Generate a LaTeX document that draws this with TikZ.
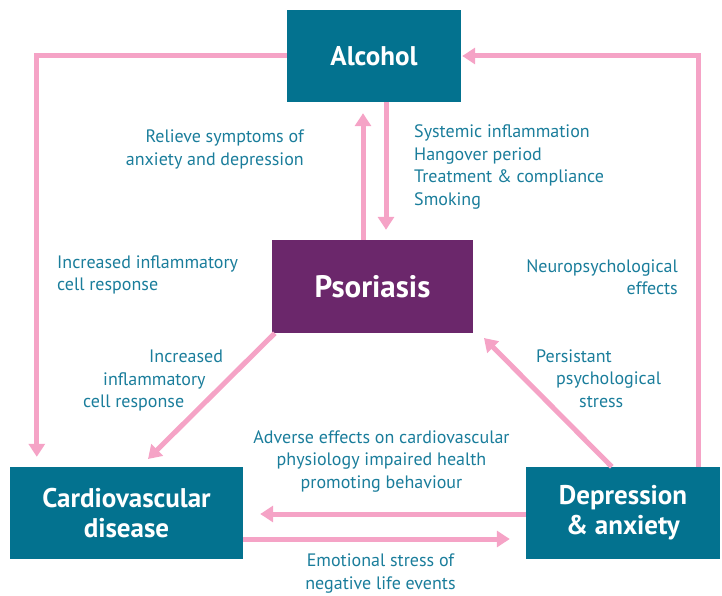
\documentclass[tikz,border=0pt]{standalone}
\usepackage{fontspec}
\setmainfont{PT Sans}
\usetikzlibrary{arrows.meta}
\definecolor{boxteal}{HTML}{03728F}
\definecolor{labteal}{HTML}{1A7D9B}
\definecolor{psorpurple}{HTML}{6B276B}
\definecolor{linkpink}{HTML}{F5A3C6}
\begin{document}
\begin{tikzpicture}[x=1pt,y=-1pt,
  box/.style={draw=none,fill=boxteal,text=white,font=\fontsize{27}{30}\selectfont\bfseries,
    align=center,inner sep=0pt},
  lab/.style={text=labteal,font=\fontsize{18}{22.5}\selectfont,inner sep=0pt},
  link/.style={draw=linkpink,line width=5pt},
  arr/.style={link,-{Triangle[width=16pt,length=13pt]}}]
\useasboundingbox (0,0) rectangle (722,596);

% boxes
\node[box,minimum width=174pt,minimum height=92pt] (alc) at (374,56) {Alcohol};
\node[box,fill=psorpurple,minimum width=201pt,minimum height=93pt,
  font=\fontsize{31}{34}\selectfont\bfseries] (psor) at (372.5,286.5) {Psoriasis};
\node[box,minimum width=233pt,minimum height=92pt] (cvd) at (126.5,513) {Cardiovascular\\disease};
\node[box,minimum width=194pt,minimum height=92pt] (dep) at (623,513) {Depression\\\& anxiety};

% outer loop connectors
\draw[arr,shorten >=10pt] (alc.west) -| ([xshift=27pt]cvd.north west);
\draw[arr,shorten >=1pt] ([xshift=-22pt]dep.north east) |- (alc.east);

% alcohol <-> psoriasis
\draw[arr,shorten >=11pt] ([xshift=-9.5pt]psor.north) -- ([xshift=-11pt]alc.south);
\draw[arr,shorten >=10pt] ([xshift=12pt]alc.south) -- ([xshift=13.5pt]psor.north);

% diagonals
\coordinate (pcvd) at (148,459);
\coordinate (ppso) at (484,338);
\draw[arr] ([xshift=3pt]psor.south west) -- (pcvd);
\draw[arr] ([xshift=86pt]dep.north west) -- (ppso);

% cvd <-> depression
\draw[arr,shorten >=17pt] (dep.west |- 0,514) -- (cvd.east |- 0,514);
\draw[arr,shorten >=16pt] (cvd.east |- 0,539) -- (dep.west |- 0,539);

% labels
\node[lab,align=right,anchor=north east] (l1) at (304,130) {Relieve symptoms of\\anxiety and depression};
\node[lab,align=left,anchor=north west] (l2) at (414,124.5) {Systemic inflammation\\Hangover period\\Treatment \& compliance\\Smoking};
\node[lab,align=left,anchor=north west] (l3) at (57,255) {Increased inflammatory\\cell response};
\node[lab,align=right,anchor=north east] (l4) at (678,259) {Neuropsychological\\effects};
\node[lab,align=left,anchor=north west] (l5) at (83,350) {\hspace*{66pt}Increased\\\hspace*{20pt}inflammatory\\cell response};
\node[lab,align=left,anchor=north west] (l6) at (536,349.5) {Persistant\\\hspace*{20pt}psychological\\\hspace*{43pt}stress};
\node[lab,align=center,anchor=north] (l7) at (381.5,430) {Adverse effects on cardiovascular\\physiology impaired health\\promoting behaviour};
\node[lab,align=center,anchor=north] (l8) at (380.5,554) {Emotional stress of\\negative life events};
\end{tikzpicture}
\end{document}
